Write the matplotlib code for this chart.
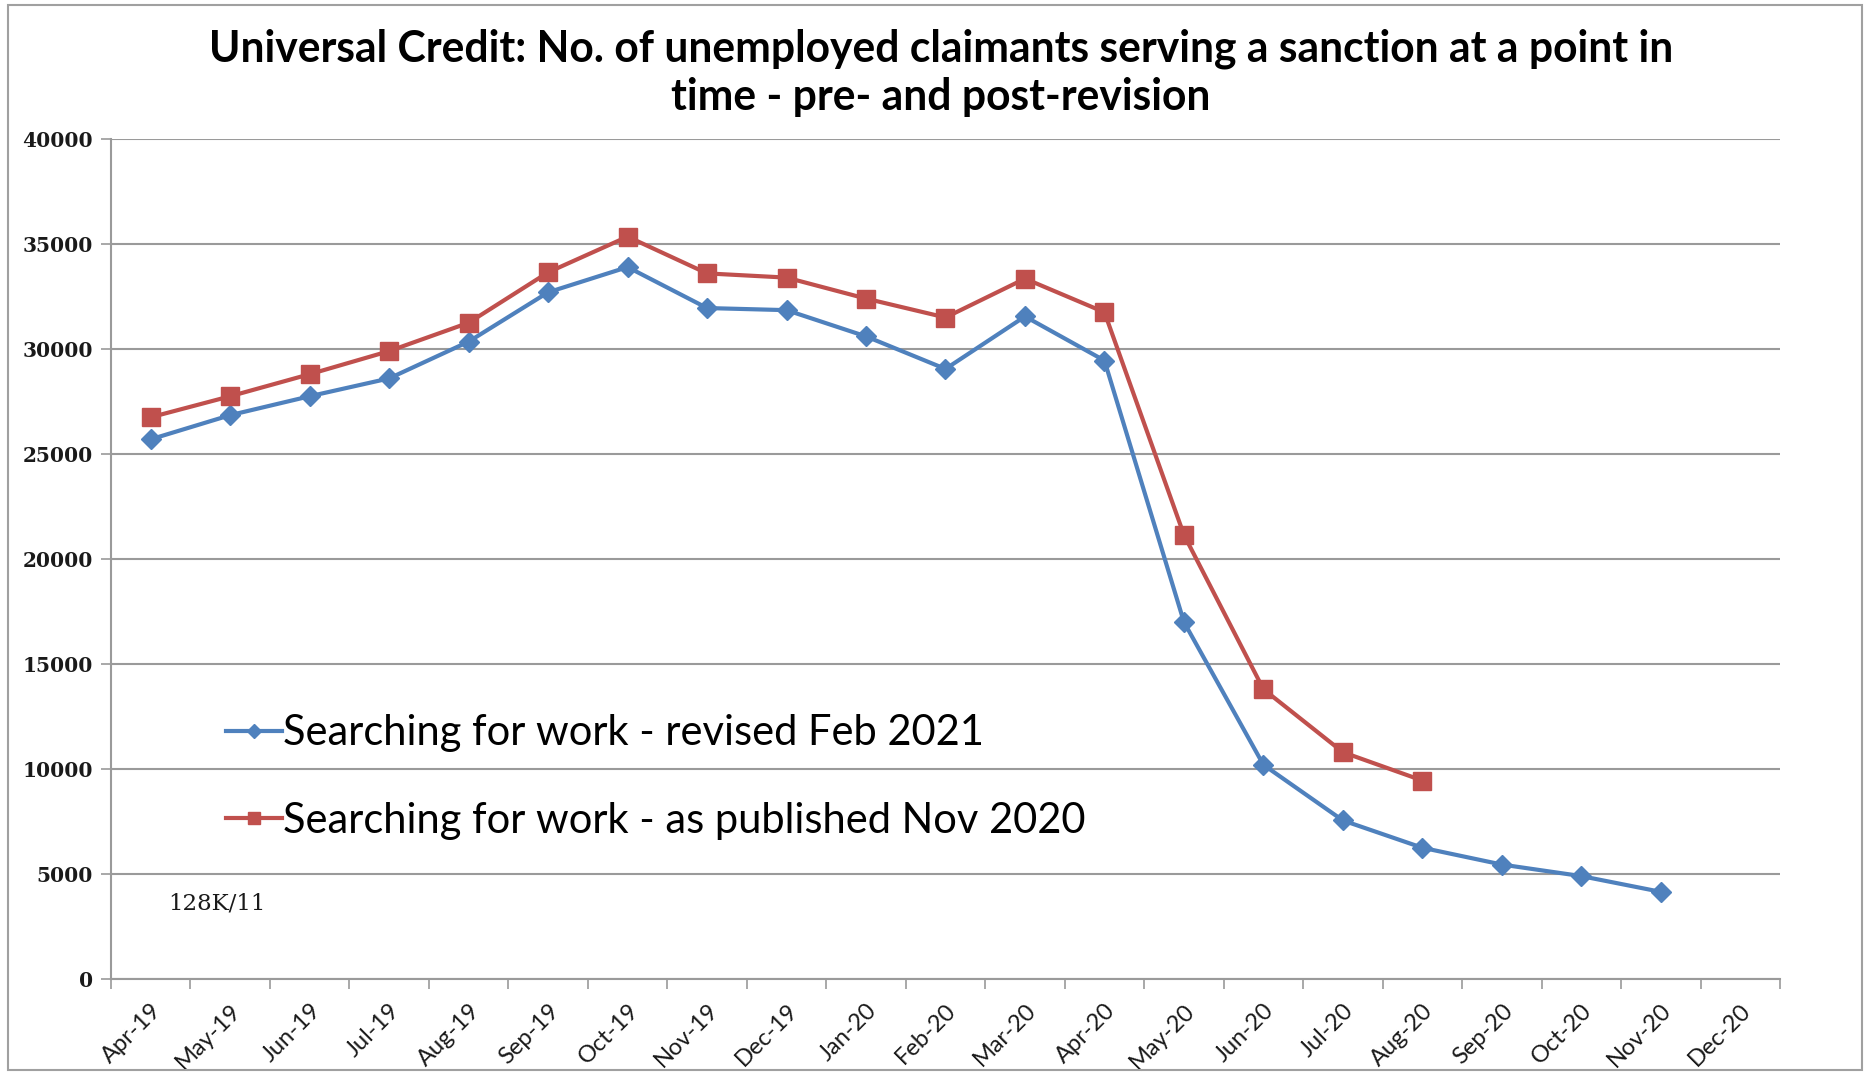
import matplotlib
matplotlib.use("Agg")
import matplotlib.pyplot as plt
import numpy as np
from matplotlib.patches import Rectangle

months = ["Apr-19", "May-19", "Jun-19", "Jul-19", "Aug-19", "Sep-19", "Oct-19",
          "Nov-19", "Dec-19", "Jan-20", "Feb-20", "Mar-20", "Apr-20", "May-20",
          "Jun-20", "Jul-20", "Aug-20", "Sep-20", "Oct-20", "Nov-20", "Dec-20"]

# revised Feb 2021 (Apr-19 .. Nov-20)
revised = [25700, 26850, 27750, 28600, 30350, 32700, 33900, 31950, 31850, 30600,
           29050, 31550, 29450, 17000, 10200, 7550, 6250, 5450, 4900, 4150]

# as published Nov 2020 (Apr-19 .. Aug-20)
published = [26750, 27750, 28800, 29900, 31250, 33650, 35350, 33600, 33400, 32400,
             31500, 33350, 31750, 21150, 13800, 10800, 9450]

yticks = [0, 5000, 10000, 15000, 20000, 25000, 30000, 35000, 40000]

blue = "#4F81BD"
red = "#C0504D"
grid_col = "#9a9a9a"

fig = plt.figure(figsize=(18.65, 10.75), dpi=100)
ax = fig.add_axes([111 / 1865, 1 - 979 / 1075, (1780 - 111) / 1865, (979 - 139) / 1075])

x_rev = np.arange(len(revised))
x_pub = np.arange(len(published))

ax.plot(x_rev, revised, color=blue, lw=3, marker="D", ms=10, mec=blue, mfc=blue,
        label="Searching for work - revised Feb 2021", zorder=3)
ax.plot(x_pub, published, color=red, lw=3, marker="s", ms=13, mec=red, mfc=red,
        label="Searching for work - as published Nov 2020", zorder=3)

ax.set_xlim(-0.5, len(months) - 0.5)
ax.set_ylim(0, 40000)

ax.set_yticks(yticks)
ax.set_yticklabels([str(v) for v in yticks], family="DejaVu Serif", weight="bold",
                   fontsize=14.5, color="#1a1a1a")
ax.yaxis.grid(True, color=grid_col, lw=1.5)
ax.set_axisbelow(True)
ax.tick_params(axis="y", length=7, width=1.2, color=grid_col, pad=6)

ax.set_xticks(np.arange(len(months)))
ax.set_xticklabels(months, rotation=45, ha="right", rotation_mode="anchor",
                   family="Lato", fontsize=17, color="#1a1a1a")
ax.tick_params(axis="x", which="major", length=0, pad=15)
ax.set_xticks(np.arange(len(months) + 1) - 0.5, minor=True)
ax.tick_params(axis="x", which="minor", length=7, width=1.2, color=grid_col)

for s in ["top", "right"]:
    ax.spines[s].set_visible(False)
for s in ["left", "bottom"]:
    ax.spines[s].set_color(grid_col)
    ax.spines[s].set_linewidth(1.5)

leg = ax.legend(loc="upper left", bbox_to_anchor=(0.069, 0.315), frameon=False,
                prop={"family": "Lato", "size": 30}, handlelength=1.34,
                handletextpad=0.02, labelspacing=1.19, markerscale=0.7,
                borderpad=0, borderaxespad=0)

ax.text(0.034, 0.09, "128K/11", transform=ax.transAxes, family="DejaVu Serif",
        fontsize=16.5, color="#1a1a1a", va="center")

fig.text(0.5045, 1 - 49 / 1075,
         "Universal Credit: No. of unemployed claimants serving a sanction at a point in",
         ha="center", va="center", family="Lato", weight="bold", fontsize=30.7)
fig.text(0.5045, 1 - 97 / 1075, "time - pre- and post-revision",
         ha="center", va="center", family="Lato", weight="bold", fontsize=30.7)

fig.patches.append(Rectangle((8 / 1865, 1 - 1070 / 1075), (1862 - 8) / 1865, (1070 - 5) / 1075,
                             transform=fig.transFigure, fill=False, ec="#a0a0a0", lw=1.5))

fig.savefig("out.png", dpi=100, facecolor="white")
